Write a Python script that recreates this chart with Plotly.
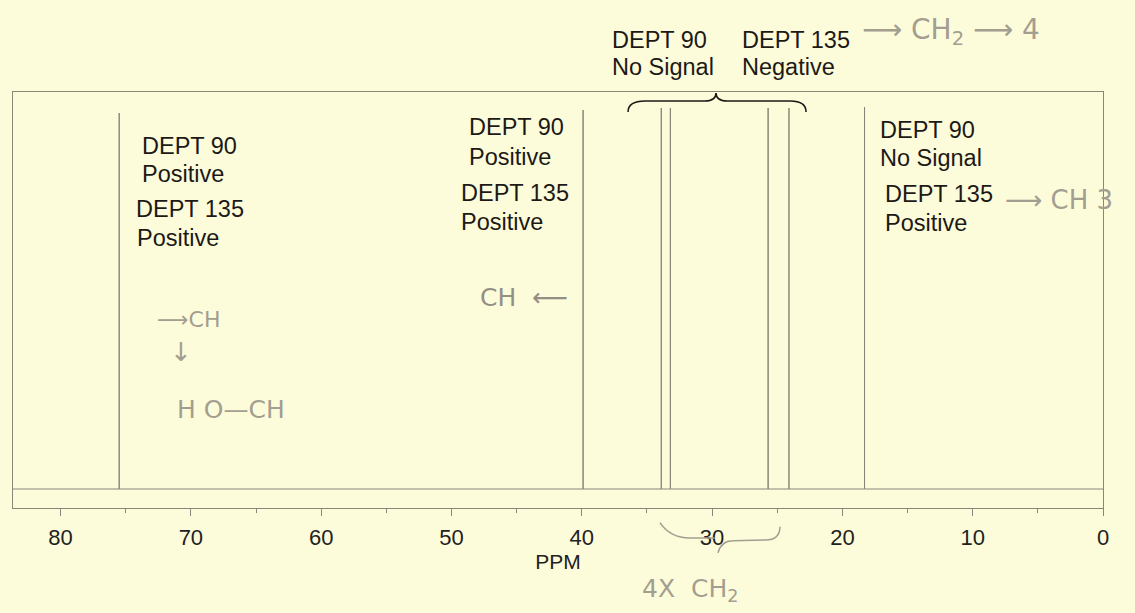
import plotly.graph_objects as go

# ---- data ----
peak_ppm = [75.5, 39.9, 33.9, 33.2, 25.7, 24.1, 18.3]
peak_height = [376, 379, 381, 381, 381, 381, 382]
ppm_max, ppm_min = 83.65, 0.0
tick_vals = [80, 70, 60, 50, 40, 30, 20, 10, 0]
tick_text = [str(v) for v in tick_vals]

BG = "#fdfcda"
LINE = "#8c8478"
INK = "#1c1916"
PENCIL = "#a39e90"
FONT = "Liberation Sans, Arial, sans-serif"

# spectrum trace: baseline with sticks
xs, ys = [ppm_max], [0]
for p, h in zip(peak_ppm, peak_height):
    xs += [p, p, p]
    ys += [0, h, 0]
xs.append(ppm_min)
ys.append(0)

fig = go.Figure()
fig.add_trace(go.Scatter(x=xs, y=ys, mode="lines",
                         line=dict(color=LINE, width=1), hoverinfo="skip",
                         showlegend=False, cliponaxis=False))

annotations = []

def txt(x, y, s, size=23.5, color=INK, xanchor="left"):
    annotations.append(dict(x=x, y=y, xref="x", yref="paper", text=s,
                            showarrow=False, xanchor=xanchor, yanchor="middle",
                            font=dict(family=FONT, size=size, color=color)))

# printed labels
txt(73.9, 0.870, "DEPT 90")
txt(73.9, 0.803, "Positive")
txt(74.4, 0.719, "DEPT 135")
txt(74.3, 0.649, "Positive")

txt(48.8, 0.916, "DEPT 90")
txt(48.8, 0.844, "Positive")
txt(49.4, 0.757, "DEPT 135")
txt(49.4, 0.688, "Positive")

txt(17.27, 0.909, "DEPT 90")
txt(17.27, 0.841, "No Signal")
txt(16.88, 0.755, "DEPT 135")
txt(16.88, 0.685, "Positive")

txt(37.84, 1.125, "DEPT 90")
txt(37.84, 1.060, "No Signal")
txt(27.86, 1.125, "DEPT 135")
txt(27.86, 1.060, "Negative")

# handwritten notes
HF = "DejaVu Sans, sans-serif"
def hand(x, y, s, size=22, color=PENCIL, xanchor="left"):
    annotations.append(dict(x=x, y=y, xref="x", yref="paper", text=s,
                            showarrow=False, xanchor=xanchor, yanchor="middle",
                            font=dict(family=HF, size=size, color=color)))

hand(18.65, 1.145, "⟶ CH<sub>2</sub> ⟶ 4", size=28)
hand(47.97, 0.505, "CH  ⟵", size=25, color="#948f84")
hand(72.75, 0.452, "⟶CH", size=22)
hand(70.76, 0.375, "↓", size=26, xanchor="center")
hand(71.2, 0.236, "H O—CH", size=25)
hand(7.67, 0.740, "⟶ CH 3", size=26)
hand(35.53, -0.197, "4X  CH<sub>2</sub>", size=25)

shapes = []
# printed brace over CH2 peaks (data coords)
bl, bm, br = 36.45, 29.70, 22.79
y0, y1, yt = 377, 388, 396
brace = (f"M {bl},{y0} Q {bl},{y1} {bl-1.3},{y1} L {bm+0.85},{y1} "
         f"Q {bm},{y1} {bm},{yt} Q {bm},{y1} {bm-0.85},{y1} "
         f"L {br+1.2},{y1} Q {br},{y1} {br},{y0}")
shapes.append(dict(type="path", path=brace, xref="x", yref="y",
                   line=dict(color=INK, width=1.6)))
# handwritten brace under axis
lb1 = "M 34.0,-0.035 Q 33.2,-0.072 31.7,-0.072 L 29.8,-0.072"
lb2 = "M 29.55,-0.108 Q 29.3,-0.079 28.4,-0.079 L 25.9,-0.077 Q 24.8,-0.077 24.79,-0.045"
for p in (lb1, lb2):
    shapes.append(dict(type="path", path=p, xref="x", yref="paper",
                       line=dict(color=PENCIL, width=1.5)))

fig.update_layout(
    width=1135, height=613,
    margin=dict(l=13, r=32, t=92, b=105),
    paper_bgcolor=BG, plot_bgcolor=BG,
    showlegend=False,
    annotations=annotations, shapes=shapes,
    xaxis=dict(range=[ppm_max, ppm_min], showgrid=False, zeroline=False,
               showline=True, mirror=True, linecolor=LINE, linewidth=1,
               ticks="outside", ticklen=7, tickcolor=LINE, tickwidth=1,
               tickvals=tick_vals, ticktext=tick_text,
               tickfont=dict(family=FONT, size=22, color="#222"),
               ticklabelstandoff=3,
               minor=dict(dtick=5, tick0=0, ticks="outside", ticklen=4,
                          tickcolor=LINE, showgrid=False),
               title=dict(text="PPM", standoff=0,
                          font=dict(family=FONT, size=21, color="#222"))),
    yaxis=dict(range=[-19, 397], showgrid=False, zeroline=False,
               showline=True, mirror=True, linecolor=LINE, linewidth=1,
               showticklabels=False, ticks=""),
)

fig.write_html(
    "out.html",
    config={"displayModeBar": False},
    post_script=("document.body.style.margin='0';"
                 "document.body.style.overflow='hidden';"
                 f"document.body.style.background='{BG}';"),
)
